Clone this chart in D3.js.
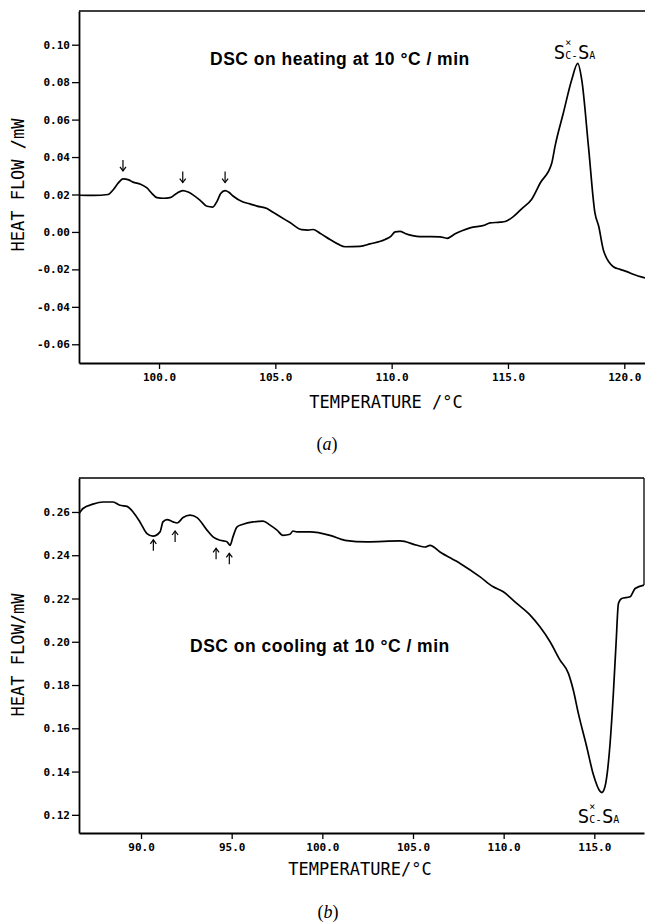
<!DOCTYPE html>
<html>
<head>
<meta charset="utf-8">
<script src="https://cdn.jsdelivr.net/npm/d3@7"></script>
<style>
  body { margin: 0; background: #fff; }
</style>
</head>
<body>
<script>
// (a) heating run: temperature (°C) and heat flow (mW)
const heatTemp = [96.56, 97.2, 97.81, 98.03, 98.25, 98.45, 98.7, 98.88, 99.2, 99.48, 99.7, 99.91,
  100.2, 100.47, 100.77, 101.02, 101.25, 101.46, 101.8, 102.06, 102.31, 102.5, 102.65, 102.84,
  103.0, 103.18, 103.61, 103.9, 104.21, 104.64, 104.9, 105.2, 105.63, 106.13, 106.41, 106.62,
  106.92, 107.35, 107.7, 108.0, 108.64, 109.07, 109.72, 109.95, 110.15, 110.36, 110.58, 110.9,
  111.22, 111.7, 112.08, 112.38, 112.73, 113.05, 113.37, 114.02, 114.23, 114.66, 114.88, 115.23,
  115.6, 116.02, 116.38, 116.88, 117.02, 117.38, 117.74, 118.0, 118.17, 118.46, 118.74,
  118.9, 119.1, 119.53, 119.82, 120.11, 120.38, 120.89];
const heatFlow = [0.0196, 0.0195, 0.0200, 0.0225, 0.0262, 0.0283, 0.0278, 0.0266, 0.0255, 0.0235, 0.0205, 0.0183,
  0.0180, 0.0183, 0.0207, 0.0221, 0.0213, 0.0198, 0.0165, 0.0137, 0.0133, 0.0165, 0.0205, 0.0221,
  0.0212, 0.0192, 0.0160, 0.0150, 0.0138, 0.0125, 0.0105, 0.0082, 0.0050, 0.0012, 0.0010, 0.0013,
  -0.0007, -0.0040, -0.0065, -0.0079, -0.0077, -0.0064, -0.0040, -0.0025, 0.0000, 0.0003, -0.0008, -0.0020,
  -0.0025, -0.0025, -0.0026, -0.0034, -0.0010, 0.0008, 0.0022, 0.0037, 0.0048, 0.0052, 0.0056, 0.0082,
  0.0125, 0.0175, 0.0260, 0.0367, 0.0456, 0.0635, 0.0813, 0.0900, 0.0813, 0.0456, 0.0100,
  0.0030, -0.0096, -0.0186, -0.0200, -0.0212, -0.0226, -0.0246];

// (b) cooling run
const coolTemp = [86.58, 86.8, 87.35, 87.9, 88.46, 88.84, 89.23, 89.56, 89.94, 90.33, 90.66, 91.05,
  91.21, 91.43, 91.77, 91.99, 92.32, 92.7, 93.09, 93.64, 93.97, 94.36, 94.74, 94.91, 95.07, 95.3,
  95.63, 96.18, 96.73, 97.12, 97.5, 97.83, 98.22, 98.38, 98.6, 99.32, 100.42, 101.25, 102.47,
  104.29, 105.22, 105.66, 105.94, 106.49, 107.6, 108.7, 109.4, 109.98, 110.72, 111.46, 112.0,
  112.56, 113.11, 113.57, 113.84, 114.12, 114.58, 114.95, 115.32, 115.41, 115.59, 115.87, 116.05,
  116.2, 116.33, 116.51, 116.97, 117.25, 117.74];
const coolFlow = [0.2593, 0.2616, 0.2636, 0.2646, 0.2646, 0.2631, 0.2626, 0.2600, 0.2554, 0.2500, 0.2488, 0.2508,
  0.2554, 0.2565, 0.2554, 0.2549, 0.2574, 0.2585, 0.2574, 0.2516, 0.2485, 0.2469, 0.2462, 0.2446, 0.2485, 0.2531,
  0.2543, 0.2554, 0.2558, 0.2539, 0.2516, 0.2492, 0.2497, 0.2512, 0.2508, 0.2508, 0.2492, 0.2469, 0.2462,
  0.2466, 0.2446, 0.2438, 0.2446, 0.2415, 0.2362, 0.2300, 0.2255, 0.2231, 0.2177, 0.2123, 0.2069,
  0.2000, 0.1915, 0.1854, 0.1777, 0.1669, 0.1515, 0.1385, 0.1308, 0.1303, 0.1331, 0.1531, 0.1762,
  0.1993, 0.2177, 0.2200, 0.2208, 0.2246, 0.2262];

const heatXTicks = [100, 105, 110, 115, 120];
const heatYTicks = [-0.06, -0.04, -0.02, 0, 0.02, 0.04, 0.06, 0.08, 0.10];
const coolXTicks = [90, 95, 100, 105, 110, 115];
const coolYTicks = [0.12, 0.14, 0.16, 0.18, 0.20, 0.22, 0.24, 0.26];

// small transitions marked with arrows
const heatArrowTemps = [98.45, 101.02, 102.84];
const coolArrowTemps = [90.68, 91.88, 94.14, 94.87];

const svg = d3.select("body").append("svg")
  .attr("width", 645)
  .attr("height", 924);

function drawPanel(p) {
  const data = p.temp.map((t, i) => [t, p.flow[i]]);
  const x = d3.scaleLinear().domain(p.xDomain).range(p.xRange);
  const y = d3.scaleLinear().domain(p.yDomain).range(p.yRange);
  const g = svg.append("g");

  // frame top (and right for panel b)
  g.append("line")
    .attr("x1", p.xRange[0]).attr("x2", p.xRange[1])
    .attr("y1", p.yRange[1]).attr("y2", p.yRange[1])
    .attr("stroke", "#000").attr("stroke-width", 1.3);
  if (p.rightBorder) {
    const last = data[data.length - 1];
    g.append("line")
      .attr("x1", p.xRange[1]).attr("x2", p.xRange[1])
      .attr("y1", p.yRange[1]).attr("y2", y(last[1]))
      .attr("stroke", "#000").attr("stroke-width", 1.3);
  }

  const xAxis = g.append("g")
    .attr("transform", "translate(0," + p.yRange[0] + ")")
    .call(d3.axisBottom(x).tickValues(p.xTicks).tickSize(6).tickPadding(4)
      .tickSizeOuter(0).tickFormat((d) => d.toFixed(1)));
  const yAxis = g.append("g")
    .attr("transform", "translate(" + p.xRange[0] + ",0)")
    .call(d3.axisLeft(y).tickValues(p.yTicks).tickSize(7).tickPadding(2)
      .tickSizeOuter(0).tickFormat((d) => d.toFixed(2)));

  [xAxis, yAxis].forEach((a) => {
    a.select(".domain").attr("stroke-width", 1.8);
    a.selectAll(".tick line").attr("stroke-width", 1.3);
    a.selectAll("text")
      .style("font-family", "DejaVu Sans Mono, monospace")
      .style("font-size", "11px")
      .style("font-weight", "bold")
      .attr("fill", "#000");
  });

  const line = d3.line()
    .x((d) => x(d[0]))
    .y((d) => y(d[1]))
    .curve(d3.curveMonotoneX);

  g.append("path")
    .datum(data)
    .attr("d", line)
    .attr("fill", "none")
    .attr("stroke", "#000")
    .attr("stroke-width", 1.7);

  // arrows over / under the small peaks
  const bis = d3.bisector((d) => d[0]).left;
  p.arrows.forEach((t) => {
    const i = Math.min(bis(data, t), data.length - 1);
    const cx = x(t);
    const cy = y(data[i][1]);
    const dir = p.arrowDown ? 1 : -1;
    const tip = cy - dir * 8;
    const tail = tip - dir * 11;
    g.append("line")
      .attr("x1", cx).attr("x2", cx).attr("y1", tail).attr("y2", tip)
      .attr("stroke", "#000").attr("stroke-width", 1.2);
    g.append("path")
      .attr("d", "M" + (cx - 3) + "," + (tip - dir * 4) + "L" + cx + "," + tip + "L" + (cx + 3) + "," + (tip - dir * 4))
      .attr("fill", "none").attr("stroke", "#000").attr("stroke-width", 1.2);
  });

  // Sc*-SA label at the main transition
  const peak = p.arrowDown ? d3.greatest(data, (d) => d[1]) : d3.least(data, (d) => d[1]);
  const lx = x(peak[0]) - 24;
  const ly = p.arrowDown ? y(peak[1]) - 4 : y(peak[1]) + 30;
  const lab = g.append("text")
    .attr("x", lx).attr("y", ly)
    .style("font-family", "DejaVu Sans Mono, monospace")
    .style("font-size", "19px")
    .attr("fill", "#000");
  lab.append("tspan").text("S");
  lab.append("tspan").style("font-size", "10px").text("C");
  lab.append("tspan").style("font-size", "10px").attr("dx", -6).attr("dy", -13).text("×");
  lab.append("tspan").style("font-size", "11px").attr("dx", 0).attr("dy", 13).text("-");
  lab.append("tspan").text("S");
  lab.append("tspan").style("font-size", "10px").text("A");

  // title
  svg.append("text")
    .attr("x", p.titleX).attr("y", p.titleY)
    .style("font-family", "Liberation Sans, Arial, sans-serif")
    .style("font-size", "17.5px")
    .style("font-weight", "bold")
    .style("letter-spacing", "0.5px")
    .text(p.title);

  // axis titles
  svg.append("text")
    .attr("transform", "translate(" + 24 + "," + p.yLabelY + ") rotate(-90)")
    .attr("text-anchor", "middle")
    .style("font-family", "DejaVu Sans Mono, monospace")
    .style("font-size", "17px")
    .text(p.yLabel);
  svg.append("text")
    .attr("x", p.xLabelX).attr("y", p.xLabelY)
    .attr("text-anchor", "middle")
    .style("font-family", "DejaVu Sans Mono, monospace")
    .style("font-size", "17px")
    .text(p.xLabel);

  svg.append("text")
    .attr("x", p.capX).attr("y", p.capY)
    .attr("text-anchor", "middle")
    .style("font-family", "Liberation Serif, Times New Roman, serif")
    .style("font-size", "18px")
    .html("(<tspan font-style='italic'>" + p.cap + "</tspan>)");
}

drawPanel({
  temp: heatTemp, flow: heatFlow,
  xDomain: [96.56, 120.89], xRange: [79, 645],
  yDomain: [-0.07, 0.118], yRange: [363, 11],
  xTicks: heatXTicks, yTicks: heatYTicks,
  arrows: heatArrowTemps, arrowDown: true, rightBorder: false,
  title: "DSC on heating at 10 °C / min", titleX: 210, titleY: 65,
  yLabel: "HEAT FLOW /mW", yLabelY: 185,
  xLabel: "TEMPERATURE /°C", xLabelX: 386, xLabelY: 408,
  cap: "a", capX: 327, capY: 450
});

drawPanel({
  temp: coolTemp, flow: coolFlow,
  xDomain: [86.58, 117.74], xRange: [79, 644],
  yDomain: [0.1116, 0.2757], yRange: [833, 478],
  xTicks: coolXTicks, yTicks: coolYTicks,
  arrows: coolArrowTemps, arrowDown: false, rightBorder: true,
  title: "DSC on cooling at 10 °C / min", titleX: 190, titleY: 652,
  yLabel: "HEAT FLOW/mW", yLabelY: 655,
  xLabel: "TEMPERATURE/°C", xLabelX: 360, xLabelY: 875,
  cap: "b", capX: 328, capY: 918
});
</script>
</body>
</html>
